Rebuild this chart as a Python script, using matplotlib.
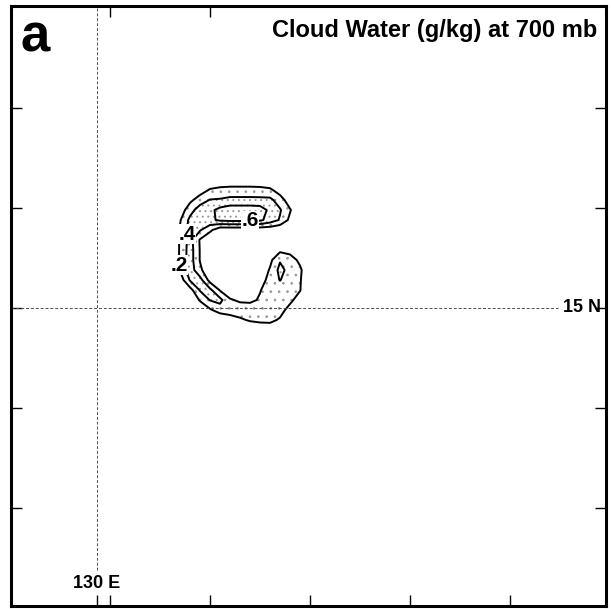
import numpy as np
import matplotlib.pyplot as plt

plt.rcParams['font.family'] = ['Liberation Sans', 'DejaVu Sans']
plt.rcParams['hatch.color'] = '0.6'
plt.rcParams['hatch.linewidth'] = 0.7

# model grid (grid units, 1 unit = 10 px of the original panel)
grid_x = np.arange(16, 31)              # 15 columns, west -> east
grid_y = np.linspace(43.8, 26.8, 18)    # 18 rows, north -> south

# cloud water (g/kg) at 700 mb, rows north -> south
cloud_water = np.array([
    [0, 0,    0,    0,    0,    0,    0,    0,    0,    0,    0,    0,    0,    0,    0],
    [0, 0,    0,    0.02, 0.03, 0.04, 0.04, 0.04, 0.04, 0.04, 0.02, 0,    0,    0,    0],
    [0, 0,    0,    0.1,  0.22, 0.26, 0.28, 0.28, 0.28, 0.27, 0.24, 0.1,  0,    0,    0],
    [0, 0,    0.15, 0.3,  0.41, 0.42, 0.45, 0.45, 0.45, 0.45, 0.45, 0.3,  0.08, 0,    0],
    [0, 0.08, 0.32, 0.5,  0.55, 0.66, 0.72, 0.72, 0.72, 0.7,  0.55, 0.42, 0.22, 0,    0],
    [0, 0.18, 0.45, 0.5,  0.55, 0.64, 0.66, 0.66, 0.66, 0.64, 0.52, 0.38, 0.15, 0,    0],
    [0, 0.22, 0.48, 0.42, 0.25, 0.05, 0.05, 0.05, 0.05, 0.05, 0.05, 0.02, 0,    0,    0],
    [0, 0.22, 0.48, 0.18, 0,    0,    0,    0,    0,    0,    0,    0,    0,    0,    0],
    [0, 0.22, 0.5,  0.19, 0,    0,    0,    0,    0,    0,    0,    0.15, 0.12, 0,    0],
    [0, 0.22, 0.5,  0.19, 0,    0,    0,    0,    0,    0.02, 0.15, 0.38, 0.3,  0.15, 0],
    [0, 0.21, 0.52, 0.24, 0.05, 0,    0,    0,    0,    0.05, 0.22, 0.46, 0.33, 0.24, 0],
    [0, 0.08, 0.42, 0.48, 0.12, 0.02, 0,    0,    0.02, 0.12, 0.26, 0.41, 0.28, 0.22, 0],
    [0, 0,    0.12, 0.42, 0.45, 0.18, 0.08, 0.05, 0.08, 0.19, 0.28, 0.28, 0.27, 0.21, 0],
    [0, 0,    0.02, 0.22, 0.41, 0.46, 0.22, 0.17, 0.16, 0.22, 0.27, 0.28, 0.24, 0.12, 0],
    [0, 0,    0,    0.05, 0.17, 0.3,  0.3,  0.3,  0.3,  0.3,  0.3,  0.26, 0.14, 0.02, 0],
    [0, 0,    0,    0,    0,    0,    0.1,  0.17, 0.22, 0.24, 0.24, 0.18, 0.02, 0,    0],
    [0, 0,    0,    0,    0,    0,    0,    0,    0.05, 0.08, 0.1,  0.02, 0,    0,    0],
    [0, 0,    0,    0,    0,    0,    0,    0,    0,    0,    0,    0,    0,    0,    0],
])

levels = [0.2, 0.4, 0.6]
level_labels = {0.2: '.2', 0.4: '.4', 0.6: '.6'}
label_spots = [(17.8, 37.4), (17.0, 34.3), (24.0, 38.8)]

lon_line = 8.7     # 130 E
lat_line = 30.0    # 15 N
xticks = [10, 20, 30, 40, 50]
yticks = [10, 20, 30, 40, 50]

fig = plt.figure(figsize=(6.11, 6.09), dpi=100)
ax = fig.add_axes([11/611, 3/609, 595/611, 600/609])

X, Y = np.meshgrid(grid_x, grid_y)
ax.contourf(X, Y, cloud_water, levels=[0.2, 0.4, 1.0], colors='none',
            hatches=['..', '...'])
cs = ax.contour(X, Y, cloud_water, levels=levels, colors='black', linewidths=1.4)
labels = ax.clabel(cs, levels, manual=label_spots, fmt=level_labels, fontsize=15,
                   inline=True, inline_spacing=1)
for t in labels:
    t.set_rotation(0)
    t.set_fontweight('bold')
    t.set_bbox(dict(fc='white', ec='none', pad=0.3))
    t.set_zorder(5)

# lat/lon reference lines
ax.axvline(lon_line, ymin=0.06, ymax=1, color='0.3', lw=0.7, ls=(0, (3, 2)))
ax.axhline(lat_line, xmin=0, xmax=0.92, color='0.3', lw=0.7, ls=(0, (3, 2)))

ax.set_xlim(0.1, 59.6)
ax.set_ylim(0.2, 60.2)

ax.set_xticks([lon_line] + xticks)
ax.set_yticks(yticks)
ax.set_xticklabels([])
ax.set_yticklabels([])
ax.tick_params(direction='in', length=8, width=1, right=True, top=False)
top = ax.secondary_xaxis('top')
top.set_xticks(xticks[:2])
top.set_xticklabels([])
top.tick_params(direction='in', length=8, width=1)
top.spines['top'].set_visible(False)
for s in ax.spines.values():
    s.set_linewidth(2.2)

ax.text(1.1, 55.6, 'a', fontsize=38, fontweight='bold', ha='left', va='baseline')
ax.text(58.7, 57.1, 'Cloud Water (g/kg) at 700 mb', fontsize=17,
        fontweight='bold', ha='right', va='baseline')
ax.text(lon_line, 2.0, '130 E', fontsize=13, fontweight='bold', ha='center', va='baseline')
ax.text(59.1, lat_line, '15 N', fontsize=13, fontweight='bold', ha='right', va='center')

fig.savefig('out.png', dpi=100)
